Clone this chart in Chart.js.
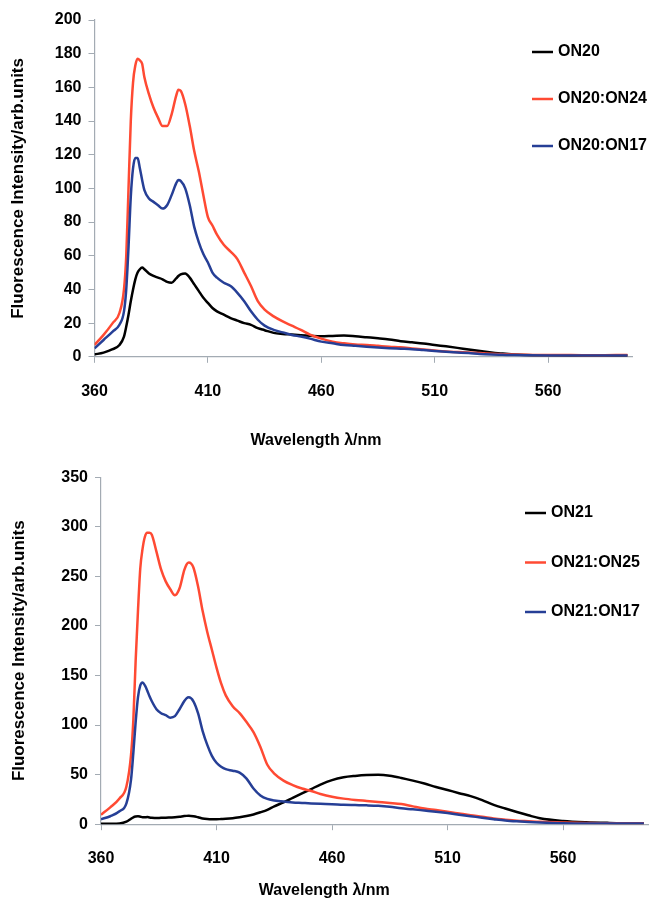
<!DOCTYPE html>
<html>
<head>
<meta charset="utf-8">
<script src="https://cdn.jsdelivr.net/npm/chart.js@4.4.1/dist/chart.umd.min.js"></script>
<style>
  html, body { margin: 0; padding: 0; background: #fff; }
  #wrap { position: relative; width: 651px; height: 901px; }
  canvas { position: absolute; left: 0; }
  #chartTop { top: 0; }
  #chartBottom { top: 460px; }
</style>
</head>
<body>
<div id="wrap">
  <canvas id="chartTop" width="651" height="460"></canvas>
  <canvas id="chartBottom" width="651" height="441"></canvas>
</div>
<script>
// Wavelength grid (nm), shared by both spectra
const wavelengths = [
  360, 364, 368, 371, 373, 374, 375, 376, 377, 378,
  379, 380, 381, 382, 384, 386, 388, 390, 392, 394,
  396, 397, 398, 400, 402, 404, 406, 408, 410, 412,
  414, 417, 420, 423, 426, 429, 432, 435, 439, 443,
  447, 451, 455, 460, 465, 470, 475, 480, 485, 490,
  495, 500, 505, 510, 515, 520, 525, 530, 535, 540,
  545, 550, 560, 570, 580, 590, 595
];

// Top panel
const on20 = [
  1.4, 2.5, 4.5, 7, 12, 18, 25, 33, 40, 46,
  50, 52, 53, 52, 49.5, 48, 47, 46, 44.5, 44,
  46.5, 48, 49, 49.5, 47, 43, 39, 35, 32, 29,
  27, 25, 23, 21.5, 20, 19, 17, 15.8, 14.2, 13.6,
  13.2, 12.8, 12.5, 12.2, 12.4, 12.6, 12.2, 11.6, 11, 10.3,
  9.3, 8.6, 7.9, 7, 6.2, 5.3, 4.3, 3.4, 2.6, 1.9,
  1.4, 1.1, 0.9, 0.8, 0.8, 0.8, 0.8
];
const on20on24 = [
  7, 13, 20, 26, 40, 60, 100, 140, 163, 173,
  177, 176, 174, 166, 156, 148, 142, 137, 137, 144,
  155, 158.6, 158, 150, 137, 122, 110, 96, 83, 78,
  72.5, 66.5, 62.5, 58, 50, 42, 33, 28, 24, 21,
  18.5, 16, 13.2, 10.8, 9, 8, 7.3, 7, 6.5, 6,
  5.6, 5, 4.4, 3.7, 3.1, 2.8, 2.5, 2.2, 1.8, 1.5,
  1.3, 1.2, 1, 1, 0.9, 1, 1
];
const on20on17 = [
  5, 10, 15, 19, 27, 40, 65, 95, 112, 118,
  118, 112, 105, 99, 94, 92, 90, 88, 90, 96,
  103, 105, 104.5, 100, 90, 77, 68, 61, 56, 50,
  47, 44, 42, 38, 33, 27, 22, 18.5, 16, 14.5,
  13, 12, 10.8, 9, 8, 7, 6.5, 6, 5.5, 5.1,
  4.8, 4.5, 4, 3.5, 3, 2.6, 2.2, 1.7, 1.4, 1.2,
  1, 0.9, 0.8, 0.8, 0.8, 0.8, 0.8
];

// Bottom panel
const on21 = [
  0.4, 0.5, 0.8, 2.5, 5.5, 7, 7.8, 8, 7.6, 7,
  7, 7.2, 6.8, 6.5, 6.2, 6.5, 6.6, 6.8, 7, 7.5,
  8.2, 8.4, 8.5, 8, 7, 5.8, 5.2, 5, 5, 5.2,
  5.4, 6, 7, 8.2, 9.8, 12, 14.5, 18, 22, 26.5,
  31, 35.5, 40, 44.5, 47.3, 48.7, 49.6, 49.8, 48.9, 46.7,
  44, 41, 37.6, 34.5, 31.3, 28.3, 24.3, 19.5, 15.8, 12.3,
  9, 6, 3.2, 1.9, 1.3, 1, 1
];
const on21on25 = [
  9.5, 17, 26, 38, 70, 105, 165, 215, 258, 278,
  290, 294, 294, 292, 275, 257, 245, 237, 231, 238,
  256, 262, 264, 259, 240, 215, 194, 176, 158, 142,
  130, 119, 112, 103, 93, 78, 60, 51, 44, 39.5,
  36, 33.5, 30.5, 27.7, 25.8, 24.5, 23.5, 22.5, 21.5, 20.3,
  18, 15.8, 14.3, 12.6, 10.8, 9, 7.5, 5.8, 4.6, 3.6,
  3, 2.4, 1.8, 1.3, 1, 1, 1
];
const on21on17 = [
  5, 8, 13, 21, 45, 72, 103, 128, 140, 143,
  140, 135, 129, 124, 116, 112, 110, 107.5, 109, 116,
  124, 127, 128, 124, 112, 94, 80, 69, 62, 58,
  55.5, 54, 52, 46, 36, 29, 25.5, 24, 22.8, 22,
  21.5, 21, 20.6, 20.2, 19.6, 19.3, 19, 18.5, 17.5, 16,
  15, 13.8, 12.6, 11.2, 9.6, 8.1, 6.5, 5.1, 3.8, 2.9,
  2.2, 1.7, 1, 0.8, 0.7, 0.7, 0.7
];

// Tick labels
const xTicks = [360, 410, 460, 510, 560];
const yTicksTop = [0, 20, 40, 60, 80, 100, 120, 140, 160, 180, 200];
const yTicksBottom = [0, 50, 100, 150, 200, 250, 300, 350];

const FONT = '"Liberation Sans", Arial, sans-serif';
const AXIS_COLOR = '#a3abb3';
const RED = '#ff4a33';
const BLUE = '#263f96';
const BLACK = '#000000';

function toPoints(values) {
    return wavelengths.map((w, i) => ({ x: w, y: values[i] }));
}

function makeDataset(label, values, color, order) {
    return {
        label: label,
        data: toPoints(values),
        borderColor: color,
        borderWidth: 2.5,
        pointRadius: 0,
        cubicInterpolationMode: 'monotone',
        order: order
    };
}

// legend drawn inside the plot area, upper right
const insideLegend = {
    id: 'insideLegend',
    afterDraw(chart, args, opts) {
        const ctx = chart.ctx;
        ctx.save();
        ctx.font = 'bold 16px ' + FONT;
        ctx.textBaseline = 'middle';
        chart.data.datasets.forEach((ds, i) => {
            const y = opts.y + i * opts.gap;
            ctx.strokeStyle = ds.borderColor;
            ctx.lineWidth = 2.5;
            ctx.beginPath();
            ctx.moveTo(opts.x, y);
            ctx.lineTo(opts.x + 21, y);
            ctx.stroke();
            ctx.fillStyle = '#000';
            ctx.fillText(ds.label, opts.x + 26, y);
        });
        ctx.restore();
    }
};

function makeOptions(cfg) {
    return {
        responsive: false,
        animation: false,
        devicePixelRatio: 1,
        layout: { padding: { top: cfg.padTop, right: cfg.padRight, left: 0, bottom: 0 } },
        scales: {
            x: {
                type: 'linear',
                min: 360,
                max: 597,
                afterBuildTicks: s => { s.ticks = xTicks.map(v => ({ value: v })); },
                afterFit: s => { s.height = cfg.xAxisHeight; },
                ticks: {
                    color: '#000',
                    font: { family: FONT, size: 16, weight: 'bold' },
                    padding: cfg.xTickPad,
                    maxRotation: 0,
                    autoSkip: false
                },
                grid: { drawOnChartArea: false, tickLength: 6, color: AXIS_COLOR },
                border: { color: AXIS_COLOR, width: 1.2 }
            },
            y: {
                min: 0,
                max: cfg.yMax,
                afterBuildTicks: s => { s.ticks = cfg.yTicks.map(v => ({ value: v })); },
                afterFit: s => { s.width = cfg.yAxisWidth; },
                ticks: {
                    color: '#000',
                    font: { family: FONT, size: 16, weight: 'bold' },
                    padding: 7
                },
                grid: { drawOnChartArea: false, tickLength: 6, color: AXIS_COLOR },
                border: { color: AXIS_COLOR, width: 1.2 },
                title: {
                    display: true,
                    text: 'Fluorescence Intensity/arb.units',
                    color: '#000',
                    font: { family: FONT, size: 17, weight: 'bold' },
                    padding: { top: cfg.yTitlePad, bottom: 0 }
                }
            }
        },
        plugins: {
            legend: { display: false },
            tooltip: { enabled: false },
            title: {
                display: true,
                position: 'bottom',
                text: 'Wavelength λ/nm',
                color: '#000',
                font: { family: FONT, size: 16, weight: 'bold' },
                padding: { top: 0, bottom: cfg.titlePadBottom }
            },
            insideLegend: cfg.legend
        }
    };
}

// ==================== TOP PANEL ====================
new Chart(document.getElementById('chartTop'), {
    type: 'line',
    data: {
        datasets: [
            makeDataset('ON20', on20, BLACK, 3),
            makeDataset('ON20:ON24', on20on24, RED, 2),
            makeDataset('ON20:ON17', on20on17, BLUE, 1)
        ]
    },
    options: makeOptions({
        padTop: 20, padRight: 19, yMax: 200, yTicks: yTicksTop,
        yAxisWidth: 94.5, xAxisHeight: 74, xTickPad: 19,
        yTitlePad: 7.8, titlePadBottom: 10,
        legend: { x: 532, y: 52, gap: 47 }
    }),
    plugins: [insideLegend]
});

// ==================== BOTTOM PANEL ====================
new Chart(document.getElementById('chartBottom'), {
    type: 'line',
    data: {
        datasets: [
            makeDataset('ON21', on21, BLACK, 3),
            makeDataset('ON21:ON25', on21on25, RED, 2),
            makeDataset('ON21:ON17', on21on17, BLUE, 1)
        ]
    },
    options: makeOptions({
        padTop: 17.3, padRight: 2.5, yMax: 350, yTicks: yTicksBottom,
        yAxisWidth: 101, xAxisHeight: 56.6, xTickPad: 19,
        yTitlePad: 8.8, titlePadBottom: 1,
        legend: { x: 525, y: 53, gap: 49.5 }
    }),
    plugins: [insideLegend]
});
</script>
</body>
</html>
